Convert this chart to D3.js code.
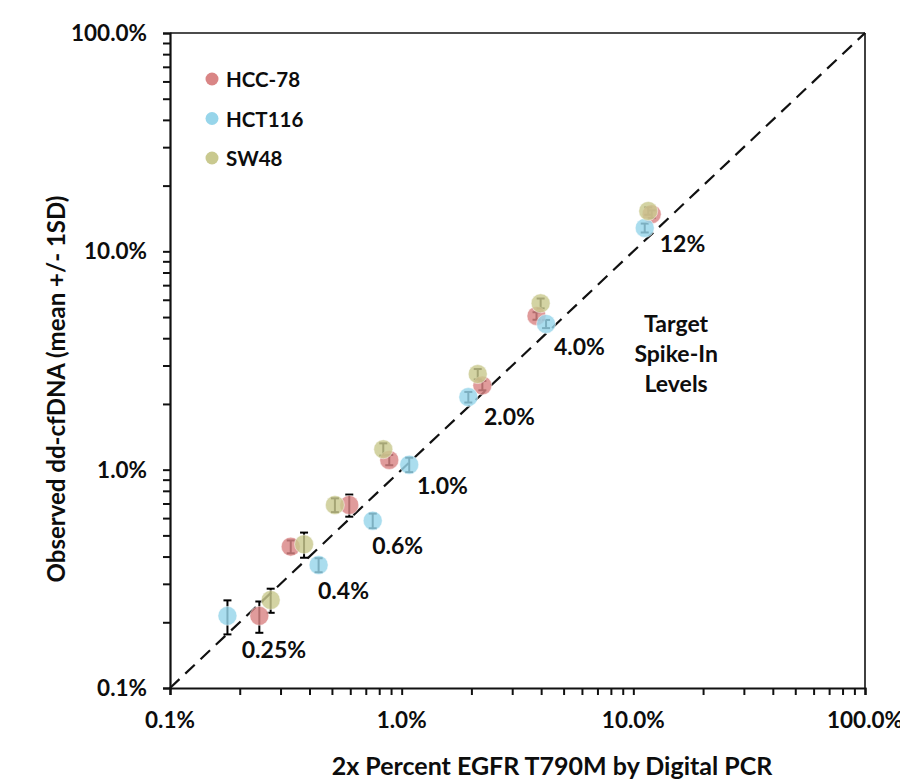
<!DOCTYPE html>
<html lang="en">
<head>
    <meta charset="UTF-8">
    <title>Observed dd-cfDNA vs Digital PCR</title>
    <script src="https://d3js.org/d3.v7.min.js"></script>
    <style>
        body { margin: 0; background: #fff; }
        text { font-family: Lato, "Open Sans", sans-serif; font-weight: bold; fill: #0d0d0d; }
    </style>
</head>
<body>
<div id="chart"></div>
<script>
// Target spike-in x values (2x percent EGFR T790M by digital PCR), per cell line
const hccX  = [0.243, 0.332, 0.594, 0.884, 2.23, 3.82, 12.0];
const hccY  = [0.214, 0.444, 0.689, 1.108, 2.43, 5.06, 14.8];
const hccSD = [0.035, 0.030, 0.080, 0.060, 0.12, 0.20, 0.6];

const hctX  = [0.177, 0.438, 0.750, 1.078, 1.94, 4.20, 11.2];
const hctY  = [0.214, 0.366, 0.584, 1.054, 2.15, 4.65, 12.8];
const hctSD = [0.038, 0.027, 0.045, 0.080, 0.12, 0.20, 0.6];

const swX   = [0.272, 0.379, 0.515, 0.833, 2.13, 3.98, 11.6];
const swY   = [0.253, 0.455, 0.689, 1.24, 2.74, 5.78, 15.3];
const swSD  = [0.032, 0.060, 0.050, 0.08, 0.15, 0.30, 0.6];

const seriesNames = ["HCC-78", "HCT116", "SW48"];
const seriesColors = ["#d98585", "#97d5ea", "#c9c98f"];

const majorTicks = [0.1, 1, 10, 100];
const majorLabels = ["0.1%", "1.0%", "10.0%", "100.0%"];

// Target level annotations (placed in data space)
const levelText = ["0.25%", "0.4%", "0.6%", "1.0%", "2.0%", "4.0%", "12%"];
const levelX    = [0.281, 0.561, 0.961, 1.50, 2.92, 5.85, 16.3];
const levelY    = [0.137, 0.256, 0.411, 0.772, 1.60, 3.35, 9.91];

const noteLines = ["Target", "Spike-In", "Levels"];
const noteX = 15.3, noteY = 4.29;

const margin = { top: 33, right: 35, bottom: 91, left: 170 },
    width = 900 - margin.left - margin.right,
    height = 779 - margin.top - margin.bottom;

const svg = d3.select("#chart").append("svg")
    .attr("width", 900)
    .attr("height", 779);

const g = svg.append("g")
    .attr("transform", `translate(${margin.left},${margin.top})`);

const x = d3.scaleLog().domain([0.1, 100]).range([0, width]);
const y = d3.scaleLog().domain([0.1, 100]).range([height, 0]);

// minor ticks 2..9 in every decade plus the majors
const allTicks = [];
[0.1, 1, 10].forEach(d => { for (let i = 1; i < 10; i++) allTicks.push(+(d * i).toFixed(3)); });
allTicks.push(100);

// frame (top, right)
g.append("line").attr("x1", 0).attr("x2", width).attr("y1", 0).attr("y2", 0)
    .attr("stroke", "#111").attr("stroke-width", 1.6);
g.append("line").attr("x1", width).attr("x2", width).attr("y1", 0).attr("y2", height)
    .attr("stroke", "#111").attr("stroke-width", 1.6);

const xAxis = g.append("g")
    .attr("transform", `translate(0,${height})`)
    .call(d3.axisBottom(x).tickValues(allTicks).tickSize(7).tickSizeOuter(7).tickFormat(""));
const yAxis = g.append("g")
    .call(d3.axisLeft(y).tickValues(allTicks).tickSize(7).tickSizeOuter(7).tickFormat(""));

[xAxis, yAxis].forEach(a => {
    a.select(".domain").attr("stroke", "#111").attr("stroke-width", 2.2);
    a.selectAll(".tick line").attr("stroke", "#111").attr("stroke-width", 2);
});

// tick labels
g.selectAll(".xlab").data(majorTicks).join("text")
    .attr("x", d => x(d)).attr("y", height + 40)
    .attr("text-anchor", "middle").attr("font-size", 22.5)
    .text((d, i) => majorLabels[i]);
g.selectAll(".ylab").data(majorTicks).join("text")
    .attr("x", -23).attr("y", d => y(d) + 8)
    .attr("text-anchor", "end").attr("font-size", 22.5)
    .text((d, i) => majorLabels[i]);

// identity line
g.append("line")
    .attr("x1", x(0.1)).attr("y1", y(0.1))
    .attr("x2", x(100)).attr("y2", y(100))
    .attr("stroke", "#111").attr("stroke-width", 2.2)
    .attr("stroke-dasharray", "13,8");

const series = [
    { xs: hccX, ys: hccY, sd: hccSD },
    { xs: hctX, ys: hctY, sd: hctSD },
    { xs: swX, ys: swY, sd: swSD }
].map((s, k) => ({
    name: seriesNames[k],
    color: seriesColors[k],
    points: s.xs.map((v, i) => ({ x: v, y: s.ys[i], sd: s.sd[i] }))
}));

// error bars under the markers
series.forEach(s => {
    const eb = g.append("g").attr("stroke", "#000").attr("stroke-width", 2);
    s.points.forEach(p => {
        const cx = x(p.x), y1 = y(p.y + p.sd), y0 = y(p.y - p.sd);
        eb.append("line").attr("x1", cx).attr("x2", cx).attr("y1", y1).attr("y2", y0);
        eb.append("line").attr("x1", cx - 4).attr("x2", cx + 4).attr("y1", y1).attr("y2", y1);
        eb.append("line").attr("x1", cx - 4).attr("x2", cx + 4).attr("y1", y0).attr("y2", y0);
    });
});

series.forEach(s => {
    g.append("g").selectAll("circle").data(s.points).join("circle")
        .attr("cx", d => x(d.x)).attr("cy", d => y(d.y))
        .attr("r", 9.5)
        .attr("fill", s.color)
        .attr("fill-opacity", 0.82)
        .attr("stroke", "#fff").attr("stroke-opacity", 0.6).attr("stroke-width", 0.8);
});

// level labels
g.selectAll(".lvl").data(levelText).join("text")
    .attr("x", (d, i) => x(levelX[i])).attr("y", (d, i) => y(levelY[i]))
    .attr("text-anchor", "middle").attr("font-size", 23)
    .text(d => d);

g.append("text")
    .attr("text-anchor", "middle").attr("font-size", 23)
    .selectAll("tspan").data(noteLines).join("tspan")
    .attr("x", x(noteX)).attr("y", (d, i) => y(noteY) + i * 30)
    .text(d => d);

// legend
const legend = g.append("g").attr("transform", "translate(42,46)");
seriesNames.forEach((n, i) => {
    legend.append("circle").attr("cx", 0).attr("cy", i * 39.5).attr("r", 6.5)
        .attr("fill", seriesColors[i]);
    legend.append("text").attr("x", 14).attr("y", i * 39.5 + 8)
        .attr("font-size", 20.5).text(n);
});

// axis titles
svg.append("text")
    .attr("x", 552).attr("y", 775)
    .attr("text-anchor", "middle").attr("font-size", 25)
    .text("2x Percent EGFR T790M by Digital PCR");
svg.append("text")
    .attr("transform", "translate(65,389) rotate(-90)")
    .attr("text-anchor", "middle").attr("font-size", 24)
    .text("Observed dd-cfDNA (mean +/- 1SD)");
</script>
</body>
</html>
